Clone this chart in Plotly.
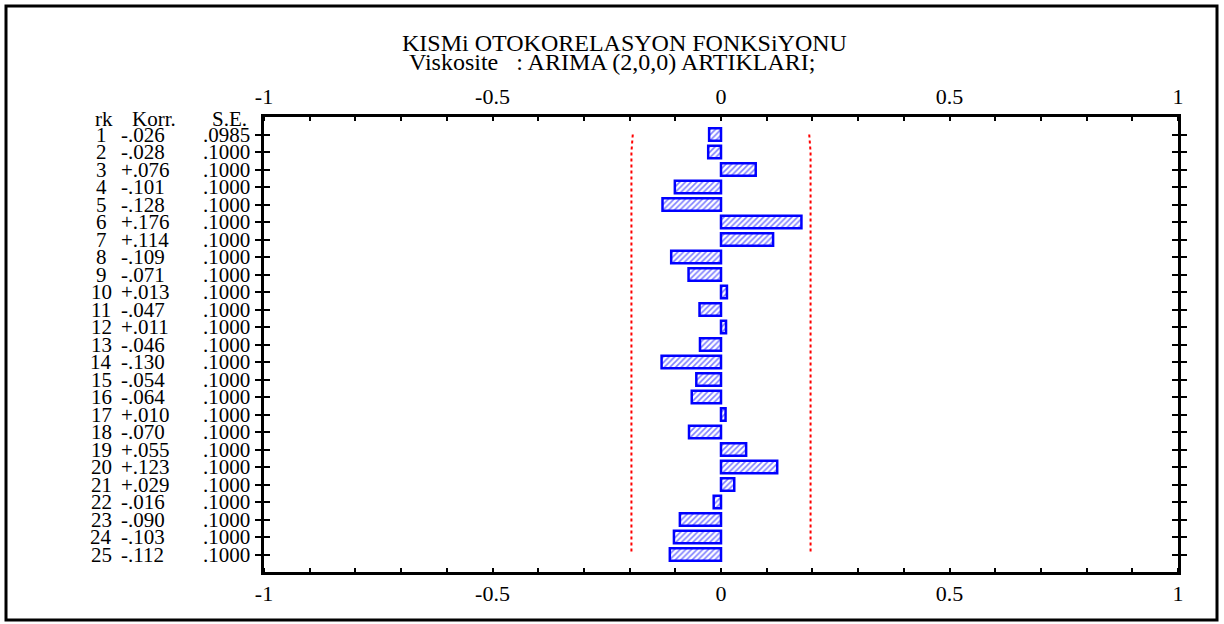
import plotly.graph_objects as go

rk = list(range(1, 26))
korr = [-0.026, -0.028, 0.076, -0.101, -0.128, 0.176, 0.114, -0.109, -0.071, 0.013,
        -0.047, 0.011, -0.046, -0.130, -0.054, -0.064, 0.010, -0.070, 0.055, 0.123,
        0.029, -0.016, -0.090, -0.103, -0.112]
se = [0.0985] + [0.1000] * 24
x_ticks = [-1, -0.5, 0, 0.5, 1]
x_tick_labels = ["-1", "-0.5", "0", "0.5", "1"]
title_text = "KISMi OTOKORELASYON FONKSiYONU"
subtitle_text = "Viskosite\u00a0\u00a0 : ARIMA (2,0,0) ARTIKLARI;"

FONT = "Liberation Serif, Times New Roman, serif"
BLUE = "#0000ff"

W, H = 1224, 624
ML, MR, MT, MB = 264, 46, 117, 52
PW, PH = W - ML - MR, H - MT - MB

def px2paper_x(px):
    return (px - ML) / PW

def py2paper_y(py):
    return (H - MB - py) / PH

fig = go.Figure()

fig.add_trace(go.Bar(
    x=korr, y=rk, orientation="h", width=0.72,
    marker=dict(color="white", line=dict(color=BLUE, width=2.5),
                pattern=dict(shape="/", fgcolor=BLUE, bgcolor="white", size=4, solidity=0.4)),
    showlegend=False, hoverinfo="x+y",
))

lim = [1.96 * s for s in se]
for sign in (-1, 1):
    fig.add_trace(go.Scatter(
        x=[sign * v for v in lim], y=rk, mode="lines",
        line=dict(color="red", width=2, dash="dot"),
        showlegend=False, hoverinfo="skip",
    ))

# invisible trace for top axis
fig.add_trace(go.Scatter(x=[-1, 1], y=[0, 0], xaxis="x2", mode="markers",
                         marker=dict(opacity=0), showlegend=False, hoverinfo="skip"))

axis_common = dict(range=[-1, 1], showgrid=False, zeroline=False,
                   showline=True, linecolor="black", linewidth=3,
                   tickmode="array", tickvals=x_ticks, ticktext=x_tick_labels,
                   ticks="", tickfont=dict(family=FONT, size=22, color="black"),
                   minor=dict(ticks="inside", dtick=0.1, ticklen=4, tickwidth=2,
                              tickcolor="black", tick0=0))
fig.update_layout(
    width=W, height=H,
    margin=dict(l=ML, r=MR, t=MT, b=MB),
    paper_bgcolor="white", plot_bgcolor="white",
    xaxis=dict(**axis_common, side="bottom", ticklabelstandoff=0),
    xaxis2=dict(**axis_common, side="top", overlaying="x", matches="x", ticklabelstandoff=1),
    yaxis=dict(range=[26, 0], showgrid=False, zeroline=False, showline=True,
               linecolor="black", linewidth=3, mirror="allticks",
               tickmode="array", tickvals=rk, ticks="inside", ticklen=6,
               tickwidth=2, tickcolor="black", showticklabels=False),
)

annotations = []
annotations.append(dict(text=title_text, x=px2paper_x(624), y=py2paper_y(43),
                        xref="paper", yref="paper", xanchor="center", yanchor="middle",
                        showarrow=False, font=dict(family=FONT, size=24, color="black")))
annotations.append(dict(text=subtitle_text, x=px2paper_x(612), y=py2paper_y(62),
                        xref="paper", yref="paper", xanchor="center", yanchor="middle",
                        showarrow=False, font=dict(family=FONT, size=24, color="black")))

lab_font = dict(family=FONT, size=21, color="black")
hy = 0.1
annotations.append(dict(text="rk", x=px2paper_x(93), y=hy, xref="paper", yref="y",
                        xanchor="left", yanchor="middle", showarrow=False, font=lab_font))
annotations.append(dict(text="Korr.", x=px2paper_x(130), y=hy, xref="paper", yref="y",
                        xanchor="left", yanchor="middle", showarrow=False, font=lab_font))
annotations.append(dict(text="S.E.", x=px2paper_x(249), y=hy, xref="paper", yref="y",
                        xanchor="right", yanchor="middle", showarrow=False, font=lab_font))
for r, k, s in zip(rk, korr, se):
    ks = ("+" if k > 0 else "-") + ("%.3f" % abs(k))[1:]
    ss = ("%.4f" % s)[1:]
    annotations.append(dict(text=str(r), x=px2paper_x(101), y=r, xref="paper", yref="y",
                            xanchor="center", yanchor="middle", showarrow=False, font=lab_font))
    annotations.append(dict(text=ks, x=px2paper_x(119), y=r, xref="paper", yref="y",
                            xanchor="left", yanchor="middle", showarrow=False, font=lab_font))
    annotations.append(dict(text=ss, x=px2paper_x(252), y=r, xref="paper", yref="y",
                            xanchor="right", yanchor="middle", showarrow=False, font=lab_font))
fig.update_layout(annotations=annotations)

# outer frame
fig.add_shape(type="rect", xref="paper", yref="paper",
              x0=px2paper_x(6), x1=px2paper_x(1217), y0=py2paper_y(620), y1=py2paper_y(6),
              line=dict(color="black", width=3), fillcolor="rgba(0,0,0,0)", layer="above")

fig.write_html("out.html", config={"displayModeBar": False},
               post_script="document.body.style.margin='0';document.body.style.overflow='hidden';")
